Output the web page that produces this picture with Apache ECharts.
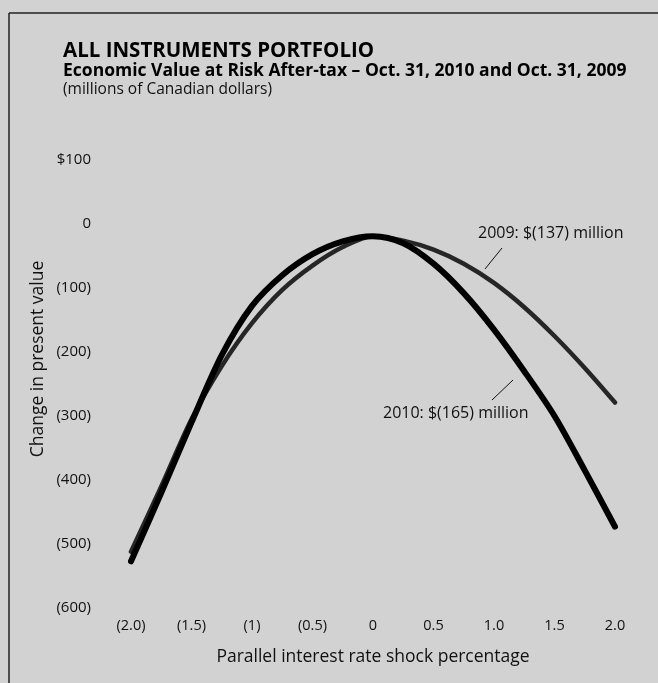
<!DOCTYPE html>
<html>
<head>
<meta charset="utf-8">
<script src="https://cdn.jsdelivr.net/npm/echarts@6/dist/echarts.min.js"></script>
<style>
  html, body { margin: 0; padding: 0; background: #d2d2d2; }
  #chart { width: 658px; height: 683px; }
</style>
</head>
<body>
<div id="chart"></div>
<script>
// Parallel interest rate shock (percentage points)
const shocks = [-2, -1.75, -1.5, -1.25, -1, -0.75, -0.5, -0.25, 0, 0.25, 0.5, 0.75, 1, 1.25, 1.5, 1.75, 2];

// Change in present value, millions of Canadian dollars
const evar2010 = [-527, -420, -310, -205, -128, -80, -47, -27, -19, -30, -62, -108, -165, -230, -300, -385, -473];
const evar2009 = [-512, -410, -305, -222, -155, -103, -65, -36, -19, -26, -40, -62, -92, -130, -175, -225, -279];

// Tick labels
const xTickValues = [-2, -1.5, -1, -0.5, 0, 0.5, 1, 1.5, 2];
const xTickText = ['(2.0)', '(1.5)', '(1)', '(0.5)', '0', '0.5', '1.0', '1.5', '2.0'];
const yTickValues = [100, 0, -100, -200, -300, -400, -500, -600];
const yTickText = ['$100', '0', '(100)', '(200)', '(300)', '(400)', '(500)', '(600)'];

const FONT = '"Open Sans", "Noto Sans", sans-serif';

function tickText(values, texts, v) {
  const i = values.findIndex(t => Math.abs(t - v) < 1e-9);
  return i >= 0 ? texts[i] : '';
}

const chart = echarts.init(document.getElementById('chart'), null, { renderer: 'canvas' });

chart.setOption({
  backgroundColor: '#d2d2d2',
  animation: false,
  textStyle: { fontFamily: FONT, color: '#111' },
  title: [
    { text: 'ALL INSTRUMENTS PORTFOLIO', left: 63, top: 41, padding: 0,
      textStyle: { fontFamily: FONT, fontSize: 20.5, fontWeight: 'bold', color: '#000' } },
    { text: 'Economic Value at Risk After-tax – Oct. 31, 2010 and Oct. 31, 2009', left: 63, top: 62, padding: 0,
      textStyle: { fontFamily: FONT, fontSize: 17.5, fontWeight: 'bold', color: '#000' } },
    { text: '(millions of Canadian dollars)', left: 63, top: 82, padding: 0,
      textStyle: { fontFamily: FONT, fontSize: 15.5, fontWeight: 'normal', color: '#111' } }
  ],
  grid: { left: 131, right: 43, top: 160, height: 448, containLabel: false },
  xAxis: {
    type: 'value', min: -2, max: 2, interval: 0.5,
    axisLine: { show: false }, axisTick: { show: false }, splitLine: { show: false },
    axisLabel: {
      margin: 10, fontSize: 14.5, color: '#111', fontFamily: FONT,
      formatter: v => tickText(xTickValues, xTickText, v)
    },
    name: 'Parallel interest rate shock percentage',
    nameLocation: 'middle', nameGap: 40,
    nameTextStyle: { fontSize: 17.5, color: '#111', fontFamily: FONT }
  },
  yAxis: {
    type: 'value', min: -600, max: 100, interval: 100,
    axisLine: { show: false }, axisTick: { show: false }, splitLine: { show: false },
    axisLabel: {
      margin: 40, fontSize: 15, color: '#111', fontFamily: FONT,
      formatter: v => tickText(yTickValues, yTickText, v)
    }
  },
  series: [
    {
      name: '2009', type: 'line', smooth: 0.3, symbol: 'none',
      data: shocks.map((x, i) => [x, evar2009[i]]),
      lineStyle: { color: '#262626', width: 4.5, cap: 'round' },
      z: 2
    },
    {
      name: '2010', type: 'line', smooth: 0.3, symbol: 'none',
      data: shocks.map((x, i) => [x, evar2010[i]]),
      lineStyle: { color: '#000', width: 6, cap: 'round' },
      z: 3
    }
  ],
  graphic: [
    // frame
    { type: 'line', shape: { x1: 9, y1: 13, x2: 658, y2: 13 }, style: { stroke: '#222', lineWidth: 1.5 } },
    { type: 'line', shape: { x1: 9, y1: 13, x2: 9, y2: 683 }, style: { stroke: '#222', lineWidth: 1.5 } },
    // y-axis title
    { type: 'text', x: 38, y: 359, rotation: Math.PI / 2, originX: 0, originY: 0,
      style: { text: 'Change in present value', fontFamily: FONT, fontSize: 17.5, fill: '#111',
               textAlign: 'center', textVerticalAlign: 'middle' } },
    // callouts
    { type: 'text', x: 478, y: 233,
      style: { text: '2009: $(137) million', fontFamily: FONT, fontSize: 16, fill: '#111',
               textAlign: 'left', textVerticalAlign: 'middle' } },
    { type: 'line', shape: { x1: 502, y1: 248, x2: 485, y2: 269 }, style: { stroke: '#111', lineWidth: 1 } },
    { type: 'text', x: 383, y: 413,
      style: { text: '2010: $(165) million', fontFamily: FONT, fontSize: 16, fill: '#111',
               textAlign: 'left', textVerticalAlign: 'middle' } },
    { type: 'line', shape: { x1: 513, y1: 380, x2: 492, y2: 400 }, style: { stroke: '#111', lineWidth: 1 } }
  ]
});
</script>
</body>
</html>
